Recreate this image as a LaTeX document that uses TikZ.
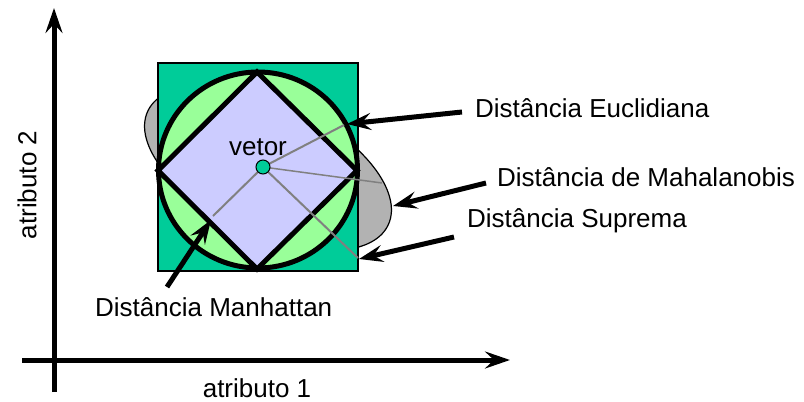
\documentclass[tikz,border=0pt]{standalone}
\usepackage{fontspec}
\setmainfont{Liberation Sans}
\usetikzlibrary{arrows.meta}
\definecolor{sqGreen}{RGB}{0,204,153}
\definecolor{circGreen}{RGB}{153,255,153}
\definecolor{diaBlue}{RGB}{204,204,255}
\definecolor{ellGray}{RGB}{178,178,178}
\definecolor{rayGray}{RGB}{128,128,128}
\begin{document}
\begin{tikzpicture}[x=1pt,y=-1pt,
  thickarrow/.style={line width=5pt,-{Stealth[length=24pt,width=17pt,inset=9pt]}},
  axisarrow/.style={line width=5pt,-{Stealth[length=25pt,width=17pt,inset=9pt]}},
  lbl/.style={font=\fontsize{26}{30}\selectfont, inner sep=0pt, anchor=west},
  ray/.style={draw=rayGray,line width=2pt},
  thickline/.style={line width=5pt, line join=miter}]
\useasboundingbox (0,0) rectangle (804,402);

% axes
\coordinate (ybot) at (54,392);
\coordinate (ytop) at (54,8);
\coordinate (xleft) at (22,360);
\coordinate (xright) at (510,360);
\draw[axisarrow] (ybot) -- (ytop);
\draw[axisarrow] (xleft) -- (xright);
\node[lbl, anchor=center] (a1) at (257,388) {atributo 1};
\node[lbl, anchor=center, rotate=90] (a2) at (27,185) {atributo 2};

% Mahalanobis ellipse
\begin{scope}[shift={(268,168)}, rotate=-25.4]
  \draw[fill=ellGray, line width=1.2pt] (0,0) ellipse [x radius=133, y radius=66];
\end{scope}

% square
\draw[fill=sqGreen, line width=1.5pt] (158,63) rectangle (358,271);
% circle
\draw[fill=circGreen, thickline] (258,170) ellipse [x radius=99.5, y radius=98];
% diamond
\draw[fill=diaBlue, thickline] (257,72) -- (357,170.5) -- (257,269) -- (158,170.5) -- cycle;

% rays from vector
\coordinate (vc) at (263,167);
\coordinate (euclEnd) at (344,125);
\coordinate (mahaEnd) at (382,183);
\coordinate (supEnd) at (358,258);
\coordinate (manhEnd) at (213,216);
\draw[ray] (vc) -- (euclEnd);
\draw[ray, line width=1.5pt] (vc) -- (mahaEnd);
\draw[ray] (vc) -- (supEnd);
\draw[ray] (vc) -- (manhEnd);
\node[circle, draw, fill=sqGreen, minimum size=14pt, inner sep=0pt, line width=1pt] (dot) at (vc) {};
\node[lbl, anchor=center] (vetor) at (258,147) {vetor};

% labels
\node[lbl] (lEucl) at (475,108) {Distância Euclidiana};
\node[lbl] (lMaha) at (497,177) {Distância de Mahalanobis};
\node[lbl] (lSup) at (467,221) {Distância Suprema};
\node[lbl] (lManh) at (95,307) {Distância Manhattan};

% pointer arrows
\coordinate (eS) at (462,112);
\coordinate (eT) at (347,124);
\coordinate (mS) at (486,183);
\coordinate (mT) at (393,206);
\coordinate (sS) at (454,237);
\coordinate (sT) at (359,259);
\coordinate (nS) at (167,287);
\coordinate (nT) at (211,220);
\draw[thickarrow] (eS) -- (eT);
\draw[thickarrow] (mS) -- (mT);
\draw[thickarrow] (sS) -- (sT);
\draw[thickarrow] (nS) -- (nT);
\end{tikzpicture}
\end{document}
